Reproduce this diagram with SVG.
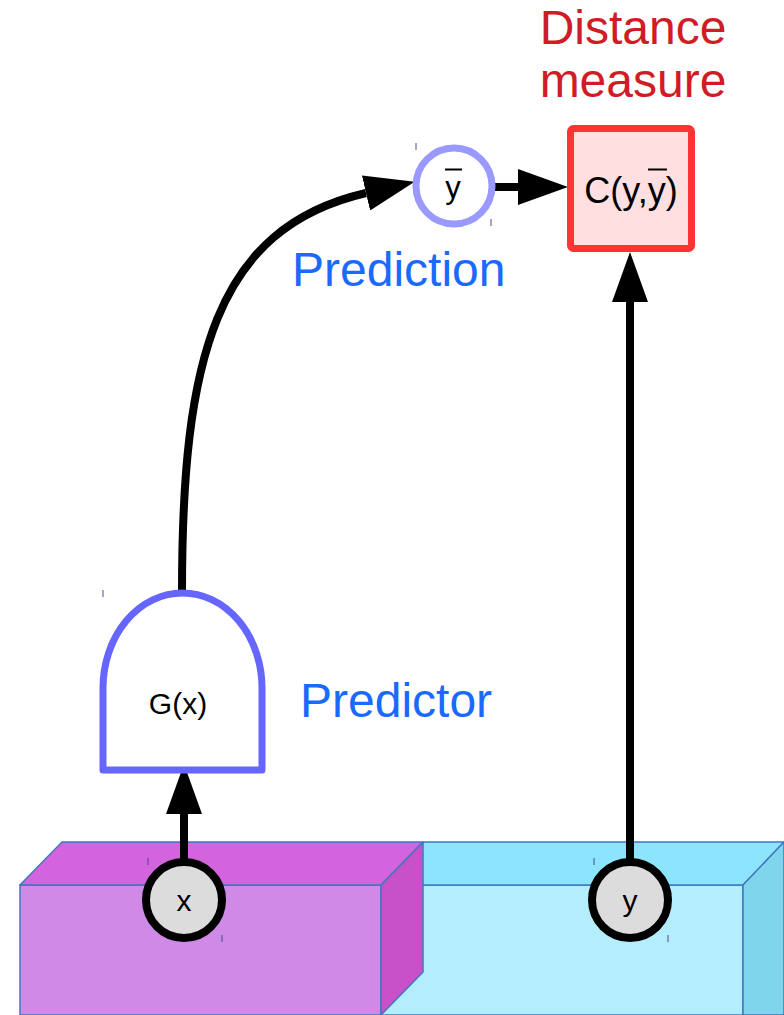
<svg xmlns="http://www.w3.org/2000/svg" width="784" height="1015" viewBox="0 0 784 1015">
  <style>
    .edge { stroke: #3f78c0; stroke-width: 1.5; stroke-linejoin: round; }
    .wire { fill: none; stroke: #000; stroke-width: 8; }
    .var { fill: #dcdcdc; stroke: #000; stroke-width: 8; }
    .lbl { font-family: "Liberation Sans", Arial, sans-serif; fill: #000; text-anchor: middle; }
    .note { font-family: "Liberation Sans", Arial, sans-serif; font-size: 48px; }
    .tick { stroke: #4a4a8a; stroke-width: 1; }
  </style>
  <defs>
    <marker id="head" viewBox="0 0 50 36" refX="0" refY="18" markerWidth="50" markerHeight="36" markerUnits="userSpaceOnUse" orient="auto">
      <path d="M0,0 L50,18 L0,36 Z" fill="#000"/>
    </marker>
  </defs>

  <rect width="784" height="1015" fill="#fff"/>

  <!-- data blocks -->
  <g id="target-block">
    <polygon class="edge" points="381,885 743,885 743,1015 381,1015" fill="#b4eefc"/>
    <polygon class="edge" points="381,885 424,842 784,842 743,885" fill="#8ce5fc"/>
    <polygon class="edge" points="743,885 784,842 784,1015 743,1015" fill="#7fd6ec"/>
  </g>
  <g id="input-block">
    <polygon class="edge" points="20,885 381,885 381,1015 20,1015" fill="#cf8ae8"/>
    <polygon class="edge" points="20,885 62,842 423,842 381,885" fill="#d364de"/>
    <polygon class="edge" points="381,885 423,842 423,972 381,1015" fill="#c850c8"/>
  </g>

  <!-- connectors -->
  <g id="connectors">
    <line class="wire" x1="184" y1="860" x2="184" y2="814" marker-end="url(#head)"/>
    <path class="wire" d="M182,592 C182,360 215,228 366,193" marker-end="url(#head)"/>
    <line class="wire" x1="494" y1="187" x2="518" y2="187" marker-end="url(#head)"/>
    <line class="wire" x1="630" y1="860" x2="630" y2="302" marker-end="url(#head)"/>
  </g>

  <g id="predictor">
    <path d="M103,770 L103,688 A79.5,95 0 0 1 182.5,593 A79.5,95 0 0 1 262,688 L262,770 Z" fill="#fff" stroke="#6666ff" stroke-width="7" stroke-linejoin="round"/>
    <text class="lbl" x="178" y="714" font-size="30">G(x)</text>
  </g>

  <g id="prediction">
    <circle cx="454" cy="186" r="38" fill="#fff" stroke="#9999ff" stroke-width="7"/>
    <text class="lbl" x="453" y="198" font-size="31">y</text>
    <line x1="445" y1="169.5" x2="462" y2="169.5" stroke="#000" stroke-width="2"/>
  </g>

  <g id="cost">
    <rect x="570.5" y="128.5" width="121" height="120" rx="3" fill="#ffdfe0" stroke="#ff3333" stroke-width="7"/>
    <text class="lbl" x="631" y="203" font-size="36">C(y,y)</text>
    <line x1="648" y1="169.5" x2="667" y2="169.5" stroke="#000" stroke-width="2"/>
  </g>

  <g id="x-var">
    <circle class="var" cx="184" cy="900" r="38"/>
    <text class="lbl" x="184" y="911" font-size="30">x</text>
  </g>

  <g id="y-var">
    <circle class="var" cx="630" cy="900" r="38"/>
    <text class="lbl" x="630" y="911" font-size="30">y</text>
  </g>

  <!-- annotations -->
  <text class="note" x="292" y="286" fill="#1a6aff">Prediction</text>
  <text class="note" x="300" y="717" fill="#1a6aff">Predictor</text>
  <text class="note" x="633" y="44" fill="#d01c24" text-anchor="middle">Distance</text>
  <text class="note" x="633" y="97" fill="#d01c24" text-anchor="middle">measure</text>

  <!-- small frame handles -->
  <g id="handles">
    <line class="tick" x1="148" y1="858" x2="148" y2="865"/>
    <line class="tick" x1="222" y1="935" x2="222" y2="942"/>
    <line class="tick" x1="594" y1="858" x2="594" y2="865"/>
    <line class="tick" x1="668" y1="935" x2="668" y2="942"/>
    <line class="tick" x1="103" y1="590" x2="103" y2="597"/>
    <line class="tick" x1="416" y1="143" x2="416" y2="150"/>
    <line class="tick" x1="491" y1="219" x2="491" y2="226"/>
  </g>
</svg>
